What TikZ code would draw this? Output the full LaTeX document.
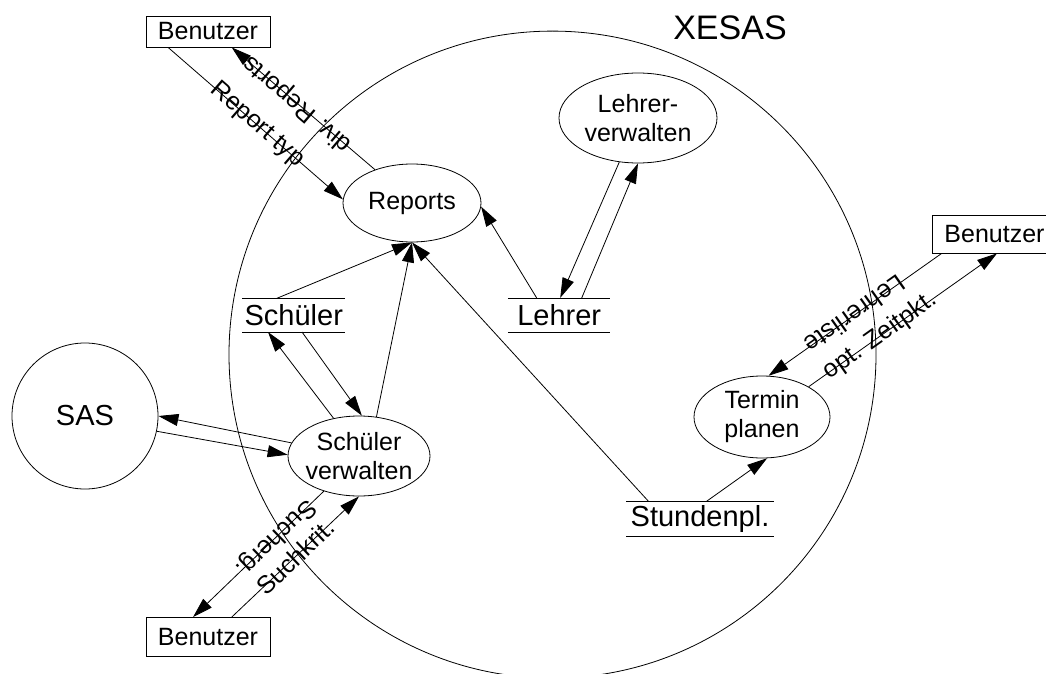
\documentclass[tikz,border=0pt]{standalone}
\usepackage{fontspec}
\setmainfont{Liberation Sans}
\usetikzlibrary{arrows.meta,calc,shapes.geometric}
\begin{document}
\begin{tikzpicture}[x=1pt,y=-1pt,
  line width=0.8pt,
  txt/.style={font={\fontsize{25pt}{29pt}\selectfont}},
  proc/.style={ellipse, draw, inner sep=-8pt, align=center, txt},
  box/.style={rectangle, draw, inner sep=0pt, minimum width=124pt, txt},
  store/.style={inner sep=0pt, font={\fontsize{29pt}{33pt}\selectfont}},
  arr/.style={-{Triangle[length=20pt,width=12pt]}},
  lbl/.style={sloped, allow upside down, inner sep=0pt, txt}]
\useasboundingbox (0,0) rectangle (1046,674);
\fill[white] (0,0) rectangle (1046,674);
\clip (0,0) rectangle (1046,674);

% system boundary
\node[circle, draw, minimum size=647pt, inner sep=0pt] (xesas) at (552.5,354.6) {};
\node[font={\fontsize{34pt}{40pt}\selectfont}] (xlabel) at (730,27.5) {XESAS};

% external entities
\node[box, minimum height=31pt] (b1) at (208,31.5) {Benutzer};
\node[box, minimum height=39pt] (b2) at (208,637) {Benutzer};
\node[box, minimum width=125pt, minimum height=38pt] (b3) at (994.5,234) {Benutzer};
\node[circle, draw, minimum size=146pt, inner sep=0pt, font={\fontsize{29pt}{33pt}\selectfont}] (sas) at (85,416) {SAS};

% processes
\node[proc, minimum width=138pt, minimum height=78pt] (rep) at (412,203) {Reports};
\node[proc, minimum width=158pt, minimum height=90pt] (lv) at (638,118) {Lehrer-\\verwalten};
\node[proc, minimum width=142pt, minimum height=80pt] (sv) at (359,456) {Schüler\\verwalten};
\node[proc, minimum width=136pt, minimum height=82pt] (tp) at (762,417) {Termin\\planen};

% stores
\node[store, minimum width=102.3pt, minimum height=32.7pt] (sch) at (293.8,315.3) {Schüler};
\node[store, minimum width=101.7pt, minimum height=33.4pt] (leh) at (559.2,315) {Lehrer};
\node[store, minimum width=146.6pt, minimum height=34.3pt] (std) at (700,518.8) {Stundenpl.};
\foreach \n in {sch,leh,std}
  \draw (\n.north west) -- (\n.north east) (\n.south west) -- (\n.south east);

% flows
\draw[arr] ($(b1.south west)!0.18!(b1.south east)$) -- node[lbl,pos=0.51]{Report typ} (rep.177);
\draw[arr] (rep.138) -- node[lbl,pos=0.54]{div. Reports} ($(b1.south west)!0.69!(b1.south east)$);

\draw[arr] ($(leh.north west)!0.28!(leh.north east)$) -- (rep.-3);
\draw[arr] (lv.-113) -- ($(leh.north west)!0.51!(leh.north east)$);
\draw[arr] ($(leh.north west)!0.72!(leh.north east)$) -- (lv.south);

\draw[arr] ($(sch.north west)!0.33!(sch.north east)$) -- (rep.south);
\draw[arr] (sv.66) -- (rep.south);
\draw[arr] ($(std.north west)!0.15!(std.north east)$) -- (rep.south);

\draw[arr] (sv.124) -- ($(sch.south west)!0.25!(sch.south east)$);
\draw[arr] ($(sch.south west)!0.58!(sch.south east)$) -- (sv.86);

\draw[arr] (sv.169) -- (sas.east);
\draw[arr] (sas.-12) -- (sv.179);

\draw[arr] (sv.225) -- node[lbl,pos=0.37]{Sucherg.} ($(b2.north west)!0.38!(b2.north east)$);
\draw[arr] ($(b2.north west)!0.69!(b2.north east)$) -- node[lbl,pos=0.5]{Suchkrit.} (sv.south);

\draw[arr] ($(b3.south west)!0.08!(b3.south east)$) -- node[lbl,pos=0.5]{Lehrerliste} (tp.81);
\draw[arr] (tp.33) -- node[lbl,pos=0.38]{opt. Zeitpkt.} ($(b3.south west)!0.52!(b3.south east)$);

\draw[arr] ($(std.north west)!0.545!(std.north east)$) -- (tp.-83);
\end{tikzpicture}
\end{document}
